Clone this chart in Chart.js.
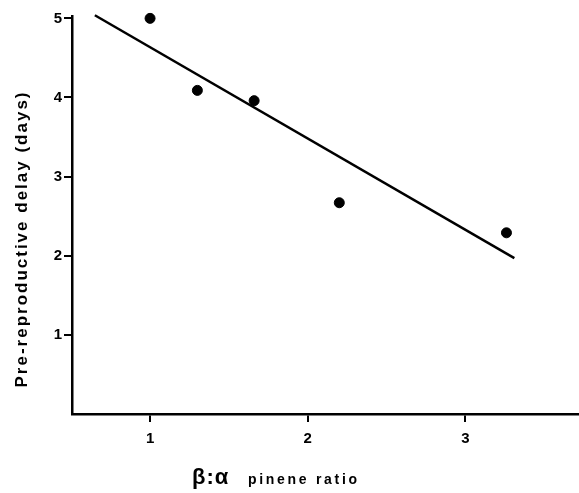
<!DOCTYPE html>
<html>
<head>
<meta charset="utf-8">
<script src="https://cdn.jsdelivr.net/npm/chart.js@4"></script>
<style>
    html, body { margin: 0; background: #fff; overflow: hidden; }
    #wrap { width: 579px; height: 493px; position: relative; }
</style>
</head>
<body>
<div id="wrap"><canvas id="pineneChart"></canvas></div>
<script>
// pinene ratio vs pre-reproductive delay
const ratioX = [1.0, 1.3, 1.66, 2.2, 3.26];
const delayDays = [5.0, 4.09, 3.96, 2.67, 2.29];
// fitted regression line end points
const fitX = [0.65, 3.31];
const fitY = [5.04, 1.97];
const xTicks = [1, 2, 3];
const yTicks = [1, 2, 3, 4, 5];

const yTitle = 'Pre-reproductive delay (days)';
const xTitleGreek = 'β:α';
const xTitleText = 'pinene ratio';

// axis titles drawn by hand so they sit where the original has them
const axisTitles = {
    id: 'axisTitles',
    afterDraw(chart) {
        const ctx = chart.ctx;
        ctx.save();
        ctx.fillStyle = '#000';
        ctx.textBaseline = 'alphabetic';

        ctx.save();
        ctx.translate(27, 239);
        ctx.rotate(-Math.PI / 2);
        ctx.font = 'bold 17px "Liberation Sans", Arial, sans-serif';
        ctx.letterSpacing = '2px';
        ctx.textAlign = 'center';
        ctx.fillText(yTitle, 0, 0);
        ctx.restore();

        ctx.textAlign = 'left';
        ctx.font = 'bold 22px "Liberation Sans", Arial, sans-serif';
        ctx.letterSpacing = '1px';
        ctx.fillText(xTitleGreek, 192, 484);
        ctx.font = 'bold 14px "Liberation Sans", Arial, sans-serif';
        ctx.letterSpacing = '2.7px';
        ctx.fillText(xTitleText, 248, 484);
        ctx.restore();
    }
};

const ctx = document.getElementById('pineneChart').getContext('2d');
new Chart(ctx, {
    type: 'scatter',
    data: {
        datasets: [
            {
                label: 'Observed',
                data: ratioX.map((x, i) => ({ x: x, y: delayDays[i] })),
                backgroundColor: '#000',
                borderColor: '#000',
                pointRadius: 5,
                pointHoverRadius: 5,
                clip: false
            },
            {
                type: 'line',
                label: 'Fit',
                data: fitX.map((x, i) => ({ x: x, y: fitY[i] })),
                borderColor: '#000',
                borderWidth: 2.5,
                pointRadius: 0,
                fill: false,
                clip: false
            }
        ]
    },
    options: {
        responsive: true,
        maintainAspectRatio: false,
        animation: false,
        layout: { autoPadding: false, padding: { top: 16, right: 0, left: 0, bottom: 0 } },
        plugins: {
            legend: { display: false },
            tooltip: { enabled: false }
        },
        scales: {
            x: {
                type: 'linear',
                min: 0.505,
                max: 3.72,
                afterBuildTicks: axis => { axis.ticks = xTicks.map(v => ({ value: v })); },
                afterFit: axis => { axis.height = 79; },
                border: { display: true, color: '#000', width: 2.5 },
                grid: { drawOnChartArea: false, drawTicks: true, tickLength: 8, color: '#000', lineWidth: 2 },
                ticks: {
                    color: '#000',
                    padding: 8,
                    maxRotation: 0,
                    font: { family: '"Liberation Sans", Arial, sans-serif', size: 15, weight: 'bold' }
                }
            },
            y: {
                type: 'linear',
                min: 0,
                max: 5.03,
                afterBuildTicks: axis => { axis.ticks = yTicks.map(v => ({ value: v })); },
                afterFit: axis => { axis.width = 72; },
                border: { display: true, color: '#000', width: 2.5 },
                grid: { drawOnChartArea: false, drawTicks: true, tickLength: 8, color: '#000', lineWidth: 2 },
                ticks: {
                    color: '#000',
                    padding: 2,
                    font: { family: '"Liberation Sans", Arial, sans-serif', size: 15, weight: 'bold' }
                }
            }
        }
    },
    plugins: [axisTitles]
});
</script>
</body>
</html>
